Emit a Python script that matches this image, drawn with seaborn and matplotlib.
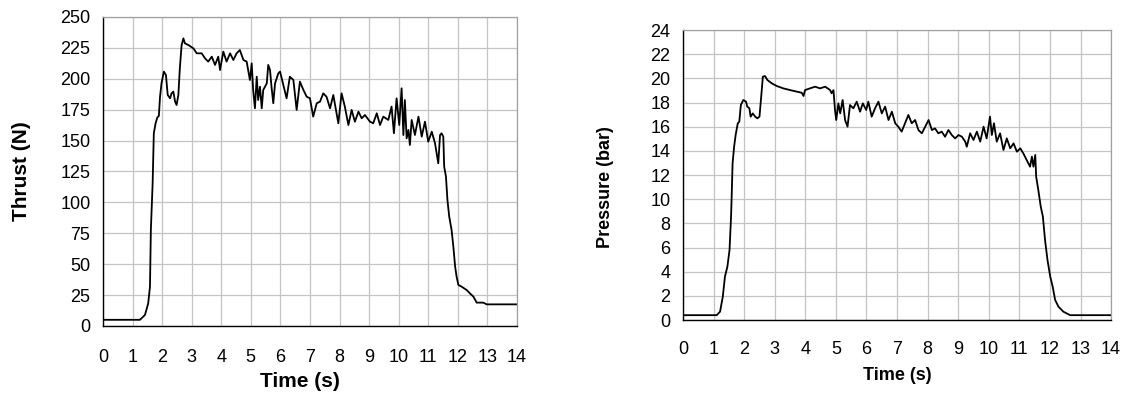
import matplotlib
matplotlib.use("Agg")
import matplotlib.pyplot as plt
import seaborn as sns
import pandas as pd

# Thrust trace (time s, thrust N)
thrust_t = [0, 1.25, 1.42, 1.53, 1.59, 1.62, 1.68, 1.72, 1.78, 1.84, 1.89, 1.93, 1.98, 2.06, 2.13,
            2.19, 2.27, 2.32, 2.38, 2.44, 2.49, 2.55, 2.60, 2.66, 2.72, 2.77, 2.89, 3.06, 3.17, 3.34,
            3.45, 3.56, 3.68, 3.79, 3.90, 3.96, 4.07, 4.18, 4.30, 4.41, 4.52, 4.63, 4.75, 4.86, 4.97,
            5.03, 5.08, 5.14, 5.20, 5.25, 5.31, 5.37, 5.42, 5.54, 5.59, 5.65, 5.70, 5.76, 5.82, 5.93,
            5.99, 6.10, 6.21, 6.32, 6.44, 6.55, 6.66, 6.78, 6.89, 7.00, 7.11, 7.23, 7.34, 7.45, 7.56,
            7.68, 7.79, 7.90, 7.96, 8.07, 8.18, 8.30, 8.41, 8.52, 8.64, 8.75, 8.86, 9.03, 9.14, 9.26,
            9.37, 9.48, 9.65, 9.76, 9.84, 9.93, 10.02, 10.10, 10.16, 10.21, 10.27, 10.33, 10.38, 10.44,
            10.55, 10.67, 10.78, 10.89, 11.00, 11.12, 11.23, 11.34, 11.40, 11.45, 11.51, 11.54, 11.60,
            11.65, 11.71, 11.79, 11.85, 11.91, 11.96, 12.02, 12.13, 12.30, 12.41, 12.53, 12.64, 12.86,
            12.98, 14.0]
thrust_n = [5, 5, 8.9, 18.3, 31.8, 77.7, 115.4, 155.9, 164, 168.8, 169.9, 185.5, 196.3, 205.8, 203,
            186.9, 184.2, 188.2, 189.6, 181.5, 178.8, 186.9, 208.5, 227.3, 232.7, 228.7, 227.3, 224.6,
            220.6, 220.6, 216.6, 213.9, 217.9, 211.2, 217.9, 207.1, 222, 213.9, 220.6, 215.2, 220.6,
            223.3, 215.2, 213.9, 199, 212.5, 190.9, 176.1, 201.7, 182.8, 193.6, 176.1, 190.9, 196.3,
            211.2, 207.1, 193.6, 180.2, 196.3, 204.4, 205.8, 195, 184.2, 201.7, 199, 174.8, 197.7,
            190.9, 185.5, 184.2, 169.4, 180.2, 181.5, 188.2, 185.5, 176.1, 186.9, 172.1, 164, 188.2,
            177.5, 162.6, 174.8, 165.3, 173.4, 168, 170.7, 165.3, 164, 172.1, 162.6, 169.4, 166.7,
            177.5, 155.9, 184.2, 162.6, 192.3, 154.5, 182.8, 151.8, 158.6, 146.4, 166.7, 154.5, 169.4,
            153.2, 165.3, 149.1, 157.2, 147.8, 131.6, 154.5, 155.9, 153.2, 128.9, 120.8, 101.9, 88.5,
            77.7, 64.2, 48, 39.9, 33.2, 31.8, 29.1, 26.4, 23.7, 18.9, 18.9, 17.5, 17.5]

# Chamber pressure trace (time s, pressure bar)
press_t = [0, 1.10, 1.21, 1.30, 1.37, 1.45, 1.52, 1.57, 1.59, 1.62, 1.67, 1.72, 1.79, 1.84, 1.89,
           1.97, 2.06, 2.10, 2.17, 2.21, 2.28, 2.36, 2.43, 2.50, 2.57, 2.61, 2.68, 2.76, 2.90, 3.06,
           3.28, 3.50, 3.72, 3.88, 3.94, 3.99, 4.15, 4.32, 4.48, 4.65, 4.81, 4.86, 4.92, 4.97, 5.01,
           5.08, 5.14, 5.22, 5.30, 5.38, 5.46, 5.57, 5.68, 5.79, 5.88, 5.99, 6.06, 6.17, 6.28, 6.39,
           6.50, 6.61, 6.72, 6.83, 6.94, 7.04, 7.15, 7.26, 7.37, 7.48, 7.59, 7.70, 7.81, 7.92, 8.03,
           8.14, 8.24, 8.35, 8.46, 8.57, 8.68, 8.79, 8.90, 9.01, 9.12, 9.23, 9.28, 9.39, 9.50, 9.61,
           9.72, 9.83, 9.93, 10.04, 10.10, 10.17, 10.26, 10.37, 10.48, 10.59, 10.70, 10.81, 10.92,
           11.03, 11.13, 11.24, 11.35, 11.41, 11.46, 11.52, 11.55, 11.62, 11.70, 11.77, 11.84, 11.92,
           12.01, 12.09, 12.17, 12.28, 12.44, 12.66, 14.0]
press_bar = [0.4, 0.4, 0.69, 1.93, 3.59, 4.41, 5.79, 8.55, 10.21, 12.97, 14.34, 15.31, 16.28, 16.41,
             17.79, 18.21, 18.07, 17.66, 17.52, 16.83, 17.10, 16.83, 16.69, 16.83, 18.90, 20.14, 20.19,
             19.86, 19.59, 19.37, 19.17, 19.03, 18.90, 18.81, 18.54, 19.03, 19.17, 19.31, 19.17, 19.31,
             19.03, 18.76, 19.03, 17.38, 16.55, 17.93, 17.10, 18.21, 16.55, 16.00, 17.79, 17.52, 18.07,
             17.24, 17.93, 17.38, 18.07, 16.83, 17.52, 18.07, 17.10, 17.66, 16.55, 17.24, 16.28, 16.00,
             15.59, 16.28, 16.97, 16.28, 16.55, 15.72, 15.45, 16.00, 16.55, 15.72, 15.86, 15.45, 15.59,
             15.17, 15.72, 15.31, 15.03, 15.31, 15.17, 14.76, 14.34, 15.45, 14.90, 15.59, 14.76, 16.00,
             15.03, 16.83, 15.31, 16.28, 14.76, 15.45, 14.07, 15.03, 14.21, 14.62, 13.93, 14.21, 13.79,
             13.24, 12.69, 13.52, 12.69, 13.66, 11.86, 10.76, 9.38, 8.55, 6.62, 4.97, 3.59, 2.76, 1.66,
             1.10, 0.69, 0.4, 0.4]

x_ticks = list(range(0, 15))
thrust_ticks = list(range(0, 251, 25))
press_ticks = list(range(0, 25, 2))

sns.set_style("white")
plt.rcParams['font.family'] = ['Liberation Sans', 'DejaVu Sans']
plt.rcParams['text.color'] = 'black'
plt.rcParams['axes.labelcolor'] = 'black'

fig = plt.figure(figsize=(11.24, 3.96), dpi=100)
ax1 = fig.add_axes([0.0916, 0.1768, 0.3683, 0.7803])
ax2 = fig.add_axes([0.6077, 0.1919, 0.3808, 0.7323])

df_thrust = pd.DataFrame({'t': thrust_t, 'v': thrust_n})
df_press = pd.DataFrame({'t': press_t, 'v': press_bar})

# ax, data, yticks, ymax, ylabel, label size, ylabel pos, xlabel pos, x tick pad
panels = [
    (ax1, df_thrust, thrust_ticks, 250, "Thrust (N)", 15, (-0.196, 0.5), (0.476, -0.181), 13),
    (ax2, df_press, press_ticks, 24, "Pressure (bar)", 13, (-0.182, 0.46), (0.50, -0.19), 11.5),
]

for ax, d, yt, ymax, ylab, lsize, ypos, xpos, xpad in panels:
    sns.lineplot(data=d, x='t', y='v', ax=ax, color='black', linewidth=1.3,
                 estimator=None, sort=False)
    ax.set_xlim(0, 14)
    ax.set_ylim(0, ymax)
    ax.set_xticks(x_ticks)
    ax.set_yticks(yt)
    ax.grid(True, color='#c4c4c4', linewidth=0.9)
    ax.set_axisbelow(True)
    for s in ['top', 'right']:
        ax.spines[s].set_color('#a0a0a0')
        ax.spines[s].set_linewidth(0.9)
    for s in ['left', 'bottom']:
        ax.spines[s].set_color('black')
        ax.spines[s].set_linewidth(1.0)
    ax.tick_params(axis='x', direction='inout', length=7, width=0.9, labelsize=13,
                   pad=xpad, colors='black')
    ax.tick_params(axis='y', direction='out', length=4, width=0.9, labelsize=13,
                   pad=5, colors='black')
    ax.set_xlabel("Time (s)", fontsize=lsize, fontweight='bold', color='black')
    ax.set_ylabel(ylab, fontsize=lsize, fontweight='bold', color='black')
    ax.yaxis.set_label_coords(*ypos)
    ax.xaxis.set_label_coords(*xpos)
    ax.xaxis.label.set_va('center')
    ax.yaxis.label.set_va('center')

fig.savefig("out.png", dpi=100)
